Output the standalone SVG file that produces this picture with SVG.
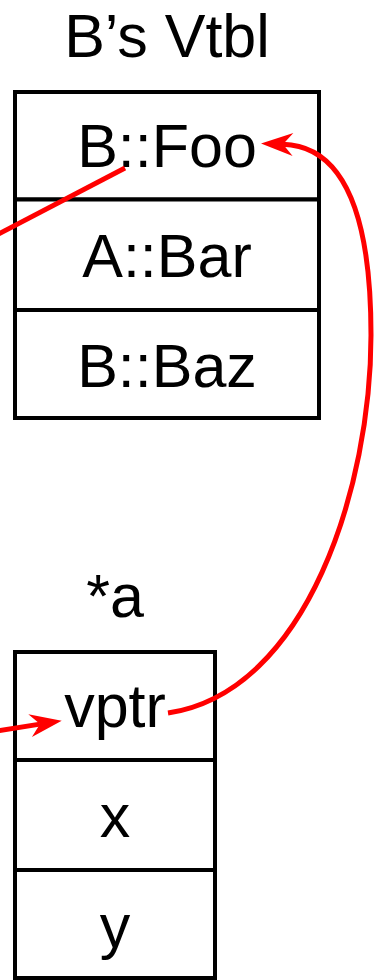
<svg xmlns="http://www.w3.org/2000/svg" width="377" height="980" viewBox="0 0 377 980">
<style>
  .cell { fill: #ffffff; stroke: #000000; stroke-width: 4; }
  .lbl { font-family: "Liberation Sans", Arial, sans-serif; font-size: 61px; fill: #000000; text-anchor: middle; }
  .wire { fill: none; stroke: #ff0000; stroke-width: 5; stroke-linecap: butt; }
</style>
<defs>
  <marker id="arrow" viewBox="-12 -13 36 26" markerWidth="36" markerHeight="26" refX="0" refY="0" markerUnits="userSpaceOnUse" orient="auto">
    <path d="M22,0 L-10,-11.5 L0,0 L-10,11.5 Z" fill="#ff0000"/>
  </marker>
</defs>
<rect width="377" height="980" fill="#ffffff"/>

<g id="vtbl-title">
  <text class="lbl" x="167" y="57">B’s Vtbl</text>
</g>
<g id="vtbl-foo">
  <rect class="cell" x="15" y="92" width="304" height="107.5"/>
  <text class="lbl" x="167" y="167">B::Foo</text>
</g>
<g id="vtbl-bar">
  <rect class="cell" x="15" y="199.5" width="304" height="110.5"/>
  <text class="lbl" x="167" y="277">A::Bar</text>
</g>
<g id="vtbl-baz">
  <rect class="cell" x="15" y="310" width="304" height="108"/>
  <text class="lbl" x="167" y="387">B::Baz</text>
</g>

<g id="obj-title">
  <text class="lbl" x="115" y="617">*a</text>
</g>
<g id="obj-vptr">
  <rect class="cell" x="15" y="652" width="200" height="108"/>
  <text class="lbl" x="115" y="727">vptr</text>
</g>
<g id="obj-x">
  <rect class="cell" x="15" y="760" width="200" height="110"/>
  <text class="lbl" x="115" y="837">x</text>
</g>
<g id="obj-y">
  <rect class="cell" x="15" y="870" width="200" height="108"/>
  <text class="lbl" x="115" y="947">y</text>
</g>

<g id="connectors">
  <path class="wire" d="M-2,234.3 L125,168"/>
  <path class="wire" d="M-2,730.8 L40,724.1" marker-end="url(#arrow)"/>
  <path class="wire" d="M168,713 C308,692 371,485 371,335 C371,205 340,146 283,144.2" marker-end="url(#arrow)"/>
</g>
</svg>
